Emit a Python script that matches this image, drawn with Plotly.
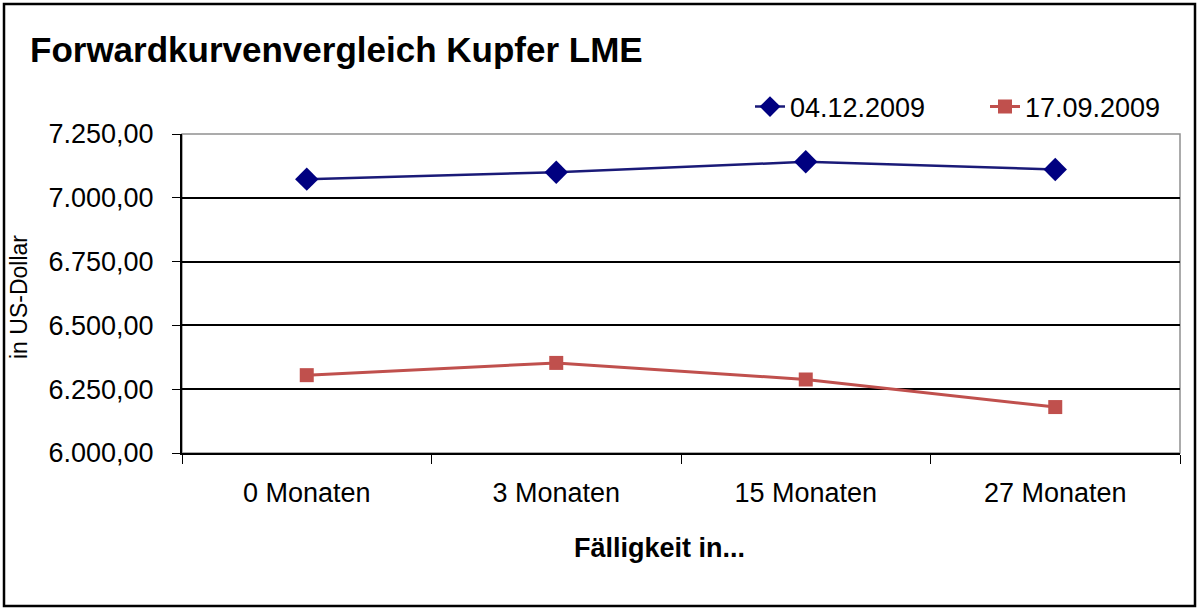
import plotly.graph_objects as go

# Fälligkeiten und Forwardpreise (US-Dollar)
categories = ["0 Monaten", "3 Monaten", "15 Monaten", "27 Monaten"]
dec_2009 = [7073, 7100, 7141, 7111]
sep_2009 = [6305, 6353, 6288, 6180]
y_ticks = [6000, 6250, 6500, 6750, 7000, 7250]

W, H = 1200, 610
L, R, T, B = 182, 20, 134, 157
pw, ph = W - L - R, H - T - B


def px_x(x):
    return (x - L) / pw


def px_y(y):
    return (H - B - y) / ph


fig = go.Figure()
fig.add_trace(go.Scatter(
    x=categories, y=dec_2009, name="04.12.2009", mode="lines+markers",
    line=dict(color="#1a1a78", width=2.5),
    marker=dict(symbol="diamond", size=18, color="#000080"),
    legend="legend",
))
fig.add_trace(go.Scatter(
    x=categories, y=sep_2009, name="17.09.2009", mode="lines+markers",
    line=dict(color="#c0504d", width=3),
    marker=dict(symbol="square", size=14, color="#c0504d"),
    legend="legend2",
))

font = "Liberation Sans, Arial, sans-serif"
legend_style = dict(orientation="h", xanchor="left", y=px_y(107),
                    yanchor="middle", font=dict(size=27),
                    bgcolor="rgba(0,0,0,0)")

fig.update_layout(
    width=W, height=H,
    margin=dict(l=L, r=R, t=T, b=B),
    paper_bgcolor="white", plot_bgcolor="white",
    separators=",.",
    font=dict(family=font, size=27, color="black"),
    title=dict(text="<b>Forwardkurvenvergleich Kupfer LME</b>",
               x=30 / W, xanchor="left", xref="container",
               y=1 - 50 / H, yanchor="middle", yref="container",
               font=dict(size=35, family=font)),
    showlegend=True,
    legend=dict(x=px_x(750), **legend_style),
    legend2=dict(x=px_x(985), **legend_style),
    xaxis=dict(
        type="category", tickson="boundaries", ticks="outside", ticklen=9,
        tickcolor="black", showline=True, linecolor="black", linewidth=2,
        showgrid=False, range=[-0.5, 3.5], tickfont=dict(size=27),
        ticklabelstandoff=15,
    ),
    yaxis=dict(
        range=[6000, 7250], tickvals=y_ticks, tickformat=",.2f",
        ticks="outside", ticklen=8, tickcolor="black",
        showline=True, linecolor="black", linewidth=2,
        showgrid=True, gridcolor="black", gridwidth=1.5,
        zeroline=False, tickfont=dict(size=27), ticklabelstandoff=13,
    ),
    shapes=[
        dict(type="rect", xref="paper", yref="paper", x0=0, x1=1, y0=0, y1=1,
             line=dict(color="#909090", width=1.5), layer="below"),
        dict(type="rect", xref="paper", yref="paper",
             x0=px_x(4), x1=px_x(1195), y0=px_y(606), y1=px_y(4),
             line=dict(color="black", width=2.5)),
    ],
    annotations=[
        dict(text="in US-Dollar", textangle=-90, xref="paper", yref="paper",
             x=px_x(19), y=px_y(297), xanchor="center", yanchor="middle",
             showarrow=False, font=dict(size=23)),
        dict(text="<b>Fälligkeit in...</b>", xref="paper", yref="paper",
             x=px_x(659), y=px_y(548), xanchor="center", yanchor="middle",
             showarrow=False, font=dict(size=27)),
    ],
)

fig.write_html("out.html", config={"displayModeBar": False},
               post_script="document.body.style.margin='0';")
